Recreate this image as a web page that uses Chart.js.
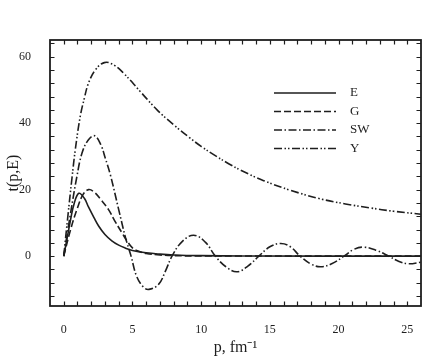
<!DOCTYPE html>
<html><head><meta charset="utf-8">
<script src="https://cdn.jsdelivr.net/npm/chart.js@4/dist/chart.umd.min.js"></script>
<style>html,body{margin:0;padding:0;background:#fff;} canvas{display:block;}</style>
</head><body>
<canvas id="c" width="442" height="361"></canvas>
<script>
// ---- data ----
const seriesNames = ['E', 'G', 'SW', 'Y'];

const pE = [0, 0.25, 0.5, 0.75, 1.1, 1.5, 1.8, 2.2, 2.55, 3, 3.5, 4, 4.5, 5, 6, 7, 8, 10, 13, 26];
const tE = [0, 5.5, 11, 15.7, 18.9, 17.4, 14.8, 11.6, 9, 6.5, 4.6, 3.3, 2.4, 1.7, 1.0, 0.6, 0.35, 0.15, 0.05, 0];

const pG = [0, 0.5, 1, 1.4, 1.8, 2.2, 2.7, 3.26, 3.7, 4.24, 4.6, 5, 5.5, 6, 7, 8, 10, 26];
const tG = [0, 8, 14.5, 18.5, 20, 19.3, 17, 14, 10.7, 7, 4.6, 2.5, 1.4, 0.8, 0.35, 0.15, 0.05, 0];

const pSW = [0, 0.5, 0.96, 1.33, 1.8, 2.25, 2.7, 3.02, 3.39, 4, 4.5, 4.9, 5.3, 5.8, 6.2, 6.9, 7.4, 7.88, 8.6, 9.45,
             10.3, 11.03, 11.8, 12.6, 13.4, 14.2, 15, 15.8, 16.5, 17.2, 18, 18.7, 19.5, 20.4, 21.1, 21.8, 22.7, 23.65, 24.4, 25.1, 26];
const tSW = [0, 13, 24, 31, 35, 36.2, 33.5, 29.5, 24.5, 14, 5.5, 0, -6, -9.3, -10, -8.5, -4.5, 0, 4.3, 6.3,
             4.2, 0, -3.2, -4.7, -3, 0, 2.8, 3.8, 2.8, 0, -2.4, -3.2, -2.3, 0, 2, 2.7, 1.8, 0, -1.6, -2.3, -1.8];

const pY = [0, 0.3, 0.6, 0.84, 1.2, 1.5, 1.8, 2.3, 2.95, 3.6, 4.36, 5.57, 6.79, 8, 9.2, 10, 11, 12, 13, 14.55, 16.5, 18.7, 20.5, 22.3, 24, 26];
const tY = [0, 12, 23.5, 32, 42, 47.5, 52, 56, 58.2, 57.6, 55, 49.5, 44, 39.5, 35.5, 33, 30.3, 27.8, 25.6, 22.7, 19.8, 17.2, 15.7, 14.5, 13.5, 12.6];

const xTickLabels = [0, 5, 10, 15, 20, 25];
const yTickLabels = [0, 20, 40, 60];

// ---- styling ----
const SERIF = '"Liberation Serif", "Times New Roman", serif';
const INK = '#1e1e1e';
const dashes = [[], [7, 3], [8, 2.5, 1.5, 2.5], [8, 2.5, 1.5, 2, 1.5, 2.5]];

function pts(xs, ys) { return xs.map((x, i) => ({ x: x, y: ys[i] })); }
const allP = [pE, pG, pSW, pY];
const allT = [tE, tG, tSW, tY];

const datasets = seriesNames.map((name, i) => ({
  label: name,
  data: pts(allP[i], allT[i]),
  borderColor: INK,
  borderWidth: 1.6,
  borderDash: dashes[i],
  pointRadius: 0,
  fill: false,
  tension: 0.4
}));

const frameTicks = {
  id: 'frameTicks',
  afterDatasetsDraw(chart) {
    const { ctx, chartArea: a, scales } = chart;
    const xs = scales.x, ys = scales.y;
    ctx.save();
    ctx.strokeStyle = INK;
    ctx.lineWidth = 1.2;
    ctx.setLineDash([]);
    const L = 4.5;
    ctx.beginPath();
    for (let v = 0; v <= 25; v += 1) {
      const px = Math.round(xs.getPixelForValue(v)) + 0.5;
      ctx.moveTo(px, a.bottom); ctx.lineTo(px, a.bottom - L);
      ctx.moveTo(px, a.top); ctx.lineTo(px, a.top + L);
    }
    for (let v = -12; v <= 64; v += 4) {
      const py = Math.round(ys.getPixelForValue(v)) + 0.5;
      ctx.moveTo(a.left, py); ctx.lineTo(a.left + L, py);
      ctx.moveTo(a.right, py); ctx.lineTo(a.right - L, py);
    }
    ctx.stroke();
    ctx.lineWidth = 1.8;
    ctx.strokeRect(a.left, a.top, a.right - a.left, a.bottom - a.top);

    // legend
    const lx0 = a.left + 224, lx1 = a.left + 286, tx = a.left + 300;
    ctx.font = '13px ' + SERIF;
    ctx.fillStyle = INK;
    ctx.textBaseline = 'middle';
    ctx.textAlign = 'left';
    chart.data.datasets.forEach((ds, i) => {
      const y = a.top + 53 + i * 18.5;
      ctx.beginPath();
      ctx.lineWidth = ds.borderWidth;
      ctx.setLineDash(ds.borderDash);
      ctx.moveTo(lx0, y); ctx.lineTo(lx1, y);
      ctx.stroke();
      ctx.fillText(ds.label, tx, y);
    });
    ctx.restore();
  }
};

new Chart(document.getElementById('c'), {
  type: 'line',
  data: { datasets: datasets },
  options: {
    responsive: false,
    devicePixelRatio: 1,
    animation: false,
    layout: { padding: { left: 0, right: 21, top: 40, bottom: 0 } },
    plugins: { legend: { display: false }, tooltip: { enabled: false } },
    scales: {
      x: {
        type: 'linear', min: -1, max: 26,
        grid: { display: false }, border: { display: false },
        afterBuildTicks: s => { s.ticks = xTickLabels.map(v => ({ value: v })); },
        afterFit: s => { s.height = 55; },
        ticks: { font: { family: SERIF, size: 12 }, color: INK, padding: 9, maxRotation: 0, autoSkip: false },
        title: { display: true, text: 'p, fm⁻¹', font: { family: SERIF, size: 16 }, color: INK, padding: { top: 0, bottom: 4 } }
      },
      y: {
        type: 'linear', min: -15, max: 65,
        grid: { display: false }, border: { display: false },
        afterBuildTicks: s => { s.ticks = yTickLabels.map(v => ({ value: v })); },
        afterFit: s => { s.width = 50; },
        ticks: { font: { family: SERIF, size: 12 }, color: INK, padding: 11 },
        title: { display: true, text: 't(p,E)', font: { family: SERIF, size: 16 }, color: INK, padding: { top: 4, bottom: 0 } }
      }
    }
  },
  plugins: [frameTicks]
});
</script>
</body></html>
